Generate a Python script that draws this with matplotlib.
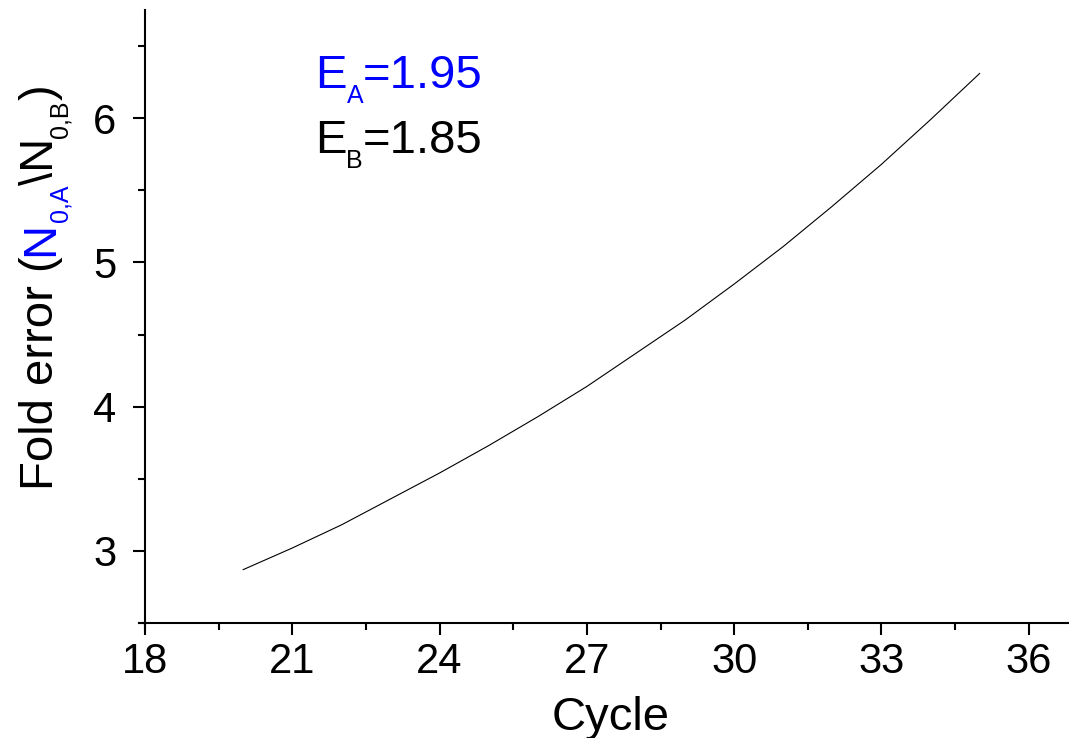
import matplotlib
matplotlib.use("Agg")
import matplotlib.pyplot as plt
from matplotlib.ticker import MultipleLocator

plt.rcParams['font.family'] = ['Liberation Sans', 'DejaVu Sans']

# fold error vs cycle
cycles = [20, 21, 22, 23, 24, 25, 26, 27, 28, 29, 30, 31, 32, 33, 34, 35]
fold_error = [2.87, 3.02, 3.18, 3.36, 3.54, 3.73, 3.93, 4.14,
              4.37, 4.60, 4.85, 5.11, 5.39, 5.68, 5.99, 6.31]

blue = '#0000ff'
W, H = 1069, 738
big, small, drop = 34, 18, 15


def draw_runs(fig, x, y, runs, rotation=0):
    # runs: (text, is_sub, colour); x, y in pixels from top-left, on the baseline
    renderer = fig.canvas.get_renderer()
    for txt, sub, col in runs:
        size = small if sub else big
        if rotation == 90:
            px, py = x + (drop if sub else 0), y
        else:
            px, py = x, y + (drop if sub else 0)
        t = fig.text(px / W, 1 - py / H, txt, fontsize=size, color=col,
                     rotation=rotation, rotation_mode='anchor',
                     ha='left', va='baseline')
        bb = t.get_window_extent(renderer)
        if rotation == 90:
            y -= bb.height
        else:
            x += bb.width


fig = plt.figure(figsize=(W / 100, H / 100), dpi=100)
ax = fig.add_axes([145 / W, 1 - 623 / H, (W - 146) / W, (623 - 10) / H])

ax.plot(cycles, fold_error, color='black', lw=0.8)

ax.set_xlim(18, 36.8)
ax.set_ylim(2.5, 6.75)
ax.xaxis.set_major_locator(MultipleLocator(3))
ax.xaxis.set_minor_locator(MultipleLocator(1.5))
ax.yaxis.set_major_locator(MultipleLocator(1))
ax.yaxis.set_minor_locator(MultipleLocator(0.5))

for s in ['top', 'right']:
    ax.spines[s].set_visible(False)
for s in ['left', 'bottom']:
    ax.spines[s].set_linewidth(1.5)
ax.spines['bottom'].set_bounds(17.88, 36.8)
ax.spines['left'].set_bounds(2.46, 6.75)

ax.tick_params(which='major', direction='out', length=8.5, width=1.5, labelsize=30, pad=5)
ax.tick_params(axis='y', which='major', pad=12)
ax.tick_params(which='minor', direction='out', length=5, width=1.5)

fig.text(611 / W, 1 - 730 / H, 'Cycle', fontsize=big, ha='center', va='baseline')

fig.canvas.draw()

# E values
draw_runs(fig, 315, 88, [('E', False, blue), ('A', True, blue), ('=1.95', False, blue)])
draw_runs(fig, 315, 153, [('E', False, 'black'), ('B', True, 'black'), ('=1.85', False, 'black')])

# y label, reading upward
draw_runs(fig, 53, 490, [('Fold error (', False, 'black'),
                         ('N', False, blue), ('0,A', True, blue),
                         ('\\N', False, 'black'), ('0,B', True, 'black'),
                         (')', False, 'black')], rotation=90)

fig.savefig('out.png', dpi=100)
